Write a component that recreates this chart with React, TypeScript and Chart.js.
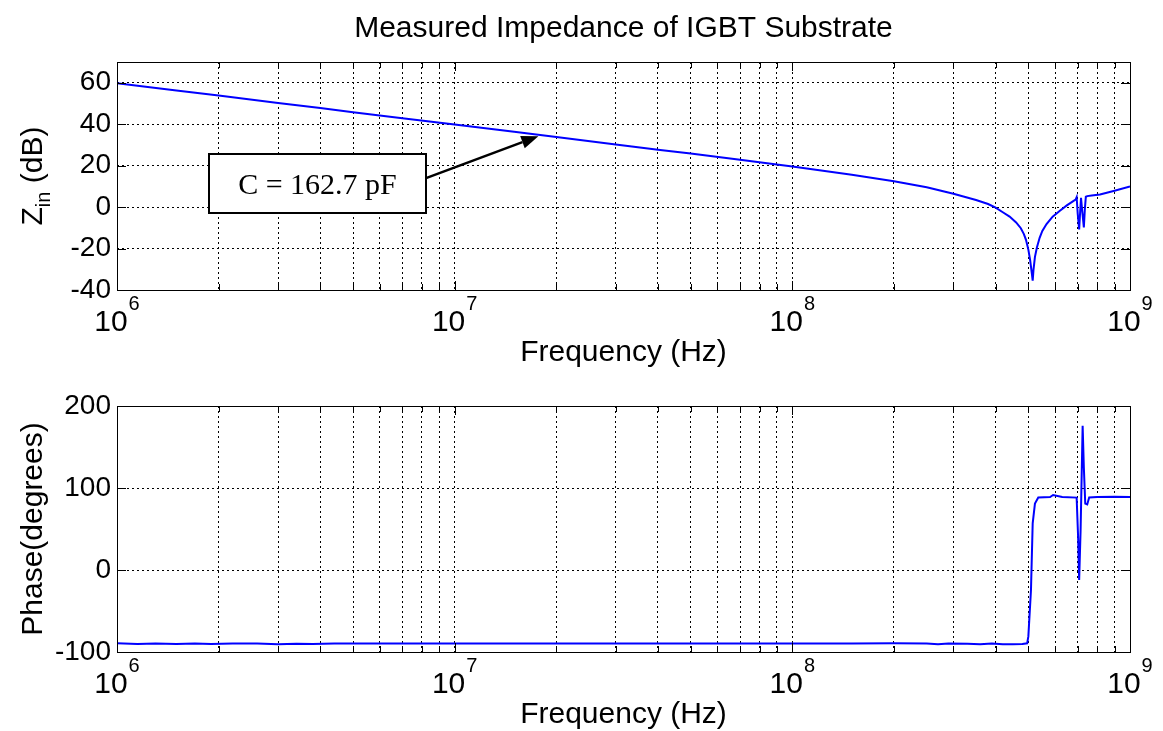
import React, { useEffect, useRef } from "react";
import { Chart, registerables } from "chart.js";

Chart.register(...registerables);

// ---------- text ----------
const TITLE = "Measured Impedance of IGBT Substrate";
const X_LABEL = "Frequency (Hz)";
const PHASE_LABEL = "Phase(degrees)";
const Z_LABEL_MAIN = "Z";
const Z_LABEL_SUB = "in";
const Z_LABEL_UNIT = " (dB)";
const ANNOTATION_TEXT = "C = 162.7 pF";

// ---------- ticks ----------
const decadeTicks = [1e6, 1e7, 1e8, 1e9];
const decadeExponents = ["6", "7", "8", "9"];
const gridFreqs = [
  1e6, 2e6, 3e6, 4e6, 5e6, 6e6, 7e6, 8e6, 9e6,
  1e7, 2e7, 3e7, 4e7, 5e7, 6e7, 7e7, 8e7, 9e7,
  1e8, 2e8, 3e8, 4e8, 5e8, 6e8, 7e8, 8e8, 9e8,
  1e9,
];
const zTicks = [-40, -20, 0, 20, 40, 60];
const phaseTicks = [-100, 0, 100, 200];

// ---------- data: impedance magnitude ----------
const zFreq = [
  1e6, 1.5e6, 2e6, 3e6, 4e6, 5e6, 7e6, 1e7, 1.5e7, 2e7, 3e7, 4e7, 5e7, 7e7,
  1e8, 1.5e8, 2e8, 2.5e8, 3e8, 3.5e8, 3.8e8, 4.0e8, 4.2e8, 4.4e8, 4.6e8, 4.75e8,
  4.85e8, 4.92e8, 5.0e8, 5.06e8, 5.12e8, 5.15e8, 5.18e8, 5.23e8, 5.3e8, 5.4e8,
  5.5e8, 5.66e8, 5.9e8, 6.2e8, 6.5e8, 6.79e8, 6.9e8, 6.95e8, 7.0e8, 7.07e8,
  7.12e8, 7.16e8, 7.22e8, 7.3e8, 7.35e8, 7.4e8, 7.47e8, 7.7e8, 8.15e8, 9e8, 1e9,
];
const zDb = [
  59.8, 56.3, 53.8, 50.2, 47.8, 45.8, 42.9, 39.8, 36.3, 33.8, 30.2, 27.7, 25.8, 22.8,
  19.6, 15.6, 12.5, 9.6, 6.4, 3.4, 1.5, -0.3, -2.5, -4.6, -7.4, -10.2,
  -13.0, -15.8, -20.5, -25.5, -32, -35.5, -30, -24, -19.5, -14.8,
  -11.5, -8.2, -4.6, -1.8, 0.8, 2.9, 3.6, 4.8, -3, -10.8,
  -2, 4.5, -2, -9.8, -1, 5.0, 5.3, 5.6, 6.1, 7.9, 9.9,
];

// ---------- data: phase ----------
const phaseFreq = [
  1e6, 1.15e6, 1.3e6, 1.5e6, 1.7e6, 1.9e6, 2.2e6, 2.6e6, 3.0e6, 3.4e6, 3.8e6,
  4.4e6, 5e6, 6e6, 7e6, 1e7, 2e7, 5e7, 1e8, 1.5e8, 2e8, 2.5e8, 2.7e8, 2.9e8,
  3.3e8, 3.6e8, 3.9e8, 4.2e8, 4.5e8, 4.8e8, 4.96e8, 5.0e8, 5.09e8, 5.15e8,
  5.23e8, 5.35e8, 5.8e8, 5.92e8, 6.3e8, 6.95e8, 7.02e8, 7.07e8, 7.14e8,
  7.24e8, 7.3e8, 7.37e8, 7.47e8, 7.57e8, 8e8, 9e8, 1e9,
];
const phaseDeg = [
  -89.4, -90.1, -89.5, -90.2, -89.6, -90.3, -89.5, -89.5, -90.4, -89.8, -90.3,
  -89.5, -89.6, -89.5, -89.6, -89.5, -89.5, -89.5, -89.5, -89.6, -89.4, -89.6, -90.5, -89.5,
  -89.8, -90.6, -89.7, -90.4, -90.5, -90.2, -89.4, -81, -24.5, 56.8,
  81, 88.4, 89, 91.5, 89, 88.3, 40, -12.3, 48.6,
  176, 125, 81, 80, 88.4, 89, 89.3, 89,
];

// ---------- annotation anchor (data coordinates) ----------
const ANNOT = {
  boxLeft: 1.873e6,
  boxRight: 8.22e6,
  boxTop: 25.6,
  boxBottom: -2.7,
  arrowStartY: 14.0,
  tipX: 1.77e7,
  tipY: 34.2,
};

const FONT = "'Liberation Sans', Arial, Helvetica, sans-serif";
const SERIF = "'Liberation Serif', 'Times New Roman', serif";

type PanelCfg = {
  top: number;
  xAxisHeight: number;
  yMin: number;
  yMax: number;
  yTicks: number[];
  freq: number[];
  values: number[];
  title?: string;
  yLabel: "z" | "phase";
  annotation?: boolean;
};

function makeChart(canvas: HTMLCanvasElement, cfg: PanelCfg) {
  const data = cfg.freq.map((f, i) => ({ x: f, y: cfg.values[i] }));

  const overlay = {
    id: "matlabOverlay",
    afterDraw(chart: any) {
      const { ctx, chartArea: a, scales } = chart;
      const xs = scales.x;
      const ys = scales.y;
      ctx.save();

      // tick marks (inward) and box
      ctx.strokeStyle = "#000";
      ctx.lineWidth = 1;
      ctx.setLineDash([]);
      ctx.beginPath();
      gridFreqs.forEach((f) => {
        const px = Math.round(xs.getPixelForValue(f)) + 0.5;
        const major = decadeTicks.includes(f);
        const len = major ? 9 : 6;
        ctx.moveTo(px, a.bottom);
        ctx.lineTo(px, a.bottom - len);
        ctx.moveTo(px, a.top);
        ctx.lineTo(px, a.top + len);
      });
      cfg.yTicks.forEach((v) => {
        const py = Math.round(ys.getPixelForValue(v)) + 0.5;
        ctx.moveTo(a.left, py);
        ctx.lineTo(a.left + 9, py);
        ctx.moveTo(a.right, py);
        ctx.lineTo(a.right - 9, py);
      });
      ctx.stroke();
      ctx.strokeRect(
        Math.round(a.left) + 0.5,
        Math.round(a.top) + 0.5,
        Math.round(a.right - a.left),
        Math.round(a.bottom - a.top)
      );

      ctx.fillStyle = "#000";
      ctx.textBaseline = "alphabetic";

      // x decade labels 10^n
      decadeTicks.forEach((f, i) => {
        const px = xs.getPixelForValue(f);
        ctx.font = `30px ${FONT}`;
        const w1 = ctx.measureText("10").width;
        ctx.font = `20px ${FONT}`;
        const w2 = ctx.measureText(decadeExponents[i]).width;
        const start = px - (w1 + w2 + 1) / 2;
        ctx.textAlign = "left";
        ctx.font = `30px ${FONT}`;
        ctx.fillText("10", start, a.bottom + 41);
        ctx.font = `20px ${FONT}`;
        ctx.fillText(decadeExponents[i], start + w1 + 1, a.bottom + 20);
      });

      // x axis title
      const cx = (a.left + a.right) / 2;
      ctx.textAlign = "center";
      ctx.font = `30px ${FONT}`;
      ctx.fillText(X_LABEL, cx, a.bottom + 71);

      // chart title
      if (cfg.title) {
        ctx.fillText(cfg.title, cx, 37);
      }

      // y axis title (rotated)
      ctx.save();
      ctx.translate(42, (a.top + a.bottom) / 2);
      ctx.rotate(-Math.PI / 2);
      if (cfg.yLabel === "z") {
        ctx.font = `30px ${FONT}`;
        const wZ = ctx.measureText(Z_LABEL_MAIN).width;
        const wU = ctx.measureText(Z_LABEL_UNIT).width;
        ctx.font = `20px ${FONT}`;
        const wS = ctx.measureText(Z_LABEL_SUB).width;
        const total = wZ + wS + wU;
        let s = -total / 2;
        ctx.textAlign = "left";
        ctx.font = `30px ${FONT}`;
        ctx.fillText(Z_LABEL_MAIN, s, 0);
        s += wZ;
        ctx.font = `20px ${FONT}`;
        ctx.fillText(Z_LABEL_SUB, s, 8);
        s += wS;
        ctx.font = `30px ${FONT}`;
        ctx.fillText(Z_LABEL_UNIT, s, 0);
      } else {
        ctx.textAlign = "center";
        ctx.font = `30px ${FONT}`;
        ctx.fillText(PHASE_LABEL, 0, 0);
      }
      ctx.restore();

      // annotation
      if (cfg.annotation) {
        const bl = Math.round(xs.getPixelForValue(ANNOT.boxLeft));
        const br = Math.round(xs.getPixelForValue(ANNOT.boxRight));
        const bt = Math.round(ys.getPixelForValue(ANNOT.boxTop));
        const bb = Math.round(ys.getPixelForValue(ANNOT.boxBottom));
        // arrow
        const sx = br;
        const sy = ys.getPixelForValue(ANNOT.arrowStartY);
        const tx = xs.getPixelForValue(ANNOT.tipX);
        const ty = ys.getPixelForValue(ANNOT.tipY);
        const ang = Math.atan2(ty - sy, tx - sx);
        const headLen = 17;
        const headHalf = 6.5;
        const bx = tx - headLen * Math.cos(ang);
        const by = ty - headLen * Math.sin(ang);
        ctx.strokeStyle = "#000";
        ctx.lineWidth = 2.5;
        ctx.beginPath();
        ctx.moveTo(sx, sy);
        ctx.lineTo(bx, by);
        ctx.stroke();
        ctx.beginPath();
        ctx.moveTo(tx, ty);
        ctx.lineTo(bx - headHalf * Math.sin(ang), by + headHalf * Math.cos(ang));
        ctx.lineTo(bx + headHalf * Math.sin(ang), by - headHalf * Math.cos(ang));
        ctx.closePath();
        ctx.fillStyle = "#000";
        ctx.fill();
        // box
        ctx.fillStyle = "#fff";
        ctx.fillRect(bl, bt, br - bl, bb - bt);
        ctx.lineWidth = 2;
        ctx.strokeRect(bl, bt, br - bl, bb - bt);
        ctx.fillStyle = "#000";
        ctx.font = `30px ${SERIF}`;
        ctx.textAlign = "center";
        ctx.fillText(ANNOTATION_TEXT, (bl + br) / 2, (bt + bb) / 2 + 10.5);
      }

      ctx.restore();
    },
  };

  return new Chart(canvas, {
    type: "line",
    data: {
      datasets: [
        {
          data,
          borderColor: "#0000ff",
          borderWidth: 2,
          pointRadius: 0,
          fill: false,
          tension: 0,
        },
      ],
    },
    options: {
      animation: false,
      responsive: false,
      devicePixelRatio: 1,
      events: [],
      layout: { padding: { left: 0, right: 33, top: cfg.top, bottom: 0 } },
      plugins: {
        legend: { display: false },
        tooltip: { enabled: false },
        title: { display: false },
      },
      scales: {
        x: {
          type: "logarithmic",
          min: 1e6,
          max: 1e9,
          position: "bottom",
          afterBuildTicks: (s: any) => {
            s.ticks = gridFreqs.map((v) => ({ value: v }));
          },
          afterFit: (s: any) => {
            s.height = cfg.xAxisHeight;
          },
          ticks: { display: false, autoSkip: false },
          grid: { color: "#000", lineWidth: 1, drawTicks: false },
          border: { display: false, dash: [2, 3] },
        },
        y: {
          type: "linear",
          min: cfg.yMin,
          max: cfg.yMax,
          position: "left",
          afterBuildTicks: (s: any) => {
            s.ticks = cfg.yTicks.map((v) => ({ value: v }));
          },
          afterFit: (s: any) => {
            s.width = 117;
          },
          ticks: {
            color: "#000",
            font: { size: 28, family: FONT },
            padding: 6,
            autoSkip: false,
          },
          grid: { color: "#000", lineWidth: 1, drawTicks: false },
          border: { display: false, dash: [2, 3] },
        },
      },
    } as any,
    plugins: [overlay],
  });
}

export default function App() {
  const topRef = useRef<HTMLCanvasElement>(null);
  const botRef = useRef<HTMLCanvasElement>(null);

  useEffect(() => {
    const c1 = makeChart(topRef.current as HTMLCanvasElement, {
      top: 62,
      xAxisHeight: 80,
      yMin: -40,
      yMax: 70,
      yTicks: zTicks,
      freq: zFreq,
      values: zDb,
      title: TITLE,
      yLabel: "z",
      annotation: true,
    });
    const c2 = makeChart(botRef.current as HTMLCanvasElement, {
      top: 36,
      xAxisHeight: 79,
      yMin: -100,
      yMax: 200,
      yTicks: phaseTicks,
      freq: phaseFreq,
      values: phaseDeg,
      yLabel: "phase",
    });
    return () => {
      c1.destroy();
      c2.destroy();
    };
  }, []);

  return (
    <div
      style={{
        position: "absolute",
        left: 0,
        top: 0,
        width: 1163,
        height: 731,
        background: "#fff",
        overflow: "hidden",
      }}
    >
      <canvas
        ref={topRef}
        width={1163}
        height={370}
        style={{ position: "absolute", left: 0, top: 0 }}
      />
      <canvas
        ref={botRef}
        width={1163}
        height={361}
        style={{ position: "absolute", left: 0, top: 370 }}
      />
    </div>
  );
}
